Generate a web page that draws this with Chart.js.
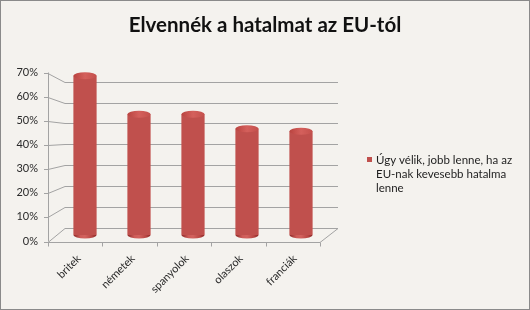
<!DOCTYPE html>
<html>
<head>
<meta charset="utf-8">
<script src="https://cdn.jsdelivr.net/npm/chart.js@4/dist/chart.umd.min.js"></script>
<style>
    html, body { margin: 0; padding: 0; background: #f4f2ee; }
    #wrap { width: 530px; height: 310px; position: relative; }
</style>
</head>
<body>
<div id="wrap"><canvas id="chart" width="530" height="310"></canvas></div>
<script>
// chart data
const categories = ['britek', 'németek', 'spanyolok', 'olaszok', 'franciák'];
const shares = [66, 50, 50, 44, 43];
const seriesLabel = 'Úgy vélik, jobb lenne, ha az EU-nak kevesebb hatalma lenne';
const yTicks = [0, 10, 20, 30, 40, 50, 60, 70];
const chartTitle = 'Elvennék a hatalmat az EU-tól';

const FONT = 'Lato, "Open Sans", sans-serif';
const GRID = '#a3a3a3';
const RED = '#c0504d';

// fake 3d depth: chart area is the middle plane, front/back drawn around it
const FRONT = { dxL: -10, dxR: -8, dy: 6.5 };
const BACK = { dxL: 7, dxR: 10, dy0: -7, k: 0.866 };

function cylGradient(ctx, x0, x1) {
    const g = ctx.createLinearGradient(x0, 0, x1, 0);
    g.addColorStop(0, '#8e2a28');
    g.addColorStop(0.3, '#cd5c58');
    g.addColorStop(0.5, '#d2625e');
    g.addColorStop(0.8, '#b84643');
    g.addColorStop(1, '#8a2826');
    return g;
}

// background, border, title, 3d walls, legend
const framePlugin = {
    id: 'frame',
    beforeDraw(chart) {
        const ctx = chart.ctx;
        ctx.save();
        ctx.fillStyle = '#f4f2ee';
        ctx.fillRect(0, 0, chart.width, chart.height);
        ctx.strokeStyle = '#8a8a8a';
        ctx.lineWidth = 1;
        ctx.strokeRect(0.5, 0.5, chart.width - 1, chart.height - 1);
        ctx.font = 'bold 20.5px ' + FONT;
        ctx.fillStyle = '#111';
        ctx.textAlign = 'center';
        ctx.textBaseline = 'middle';
        ctx.fillText(chartTitle, 265, 25);
        ctx.restore();
    },
    beforeDatasetsDraw(chart) {
        const ctx = chart.ctx;
        const a = chart.chartArea;
        const y = chart.scales.y;
        const y0 = y.getPixelForValue(0);
        const fL = a.left + FRONT.dxL, fR = a.right + FRONT.dxR;
        const bL = a.left + BACK.dxL, bR = a.right + BACK.dxR;
        const front = v => y.getPixelForValue(v) + FRONT.dy;
        const back = v => (y0 + BACK.dy0) - (y0 - y.getPixelForValue(v)) * BACK.k;
        ctx.save();
        ctx.strokeStyle = GRID;
        ctx.lineWidth = 1;
        ctx.beginPath();
        yTicks.forEach(v => {
            const yf = Math.round(front(v)) + 0.5;
            const yb = Math.round(back(v)) + 0.5;
            ctx.moveTo(fL - 4, yf);
            ctx.lineTo(fL, yf);
            ctx.lineTo(bL, yb);
            ctx.lineTo(bR, yb);
        });
        // axis line
        ctx.moveTo(Math.round(fL) + 0.5, front(yTicks[yTicks.length - 1]));
        ctx.lineTo(Math.round(fL) + 0.5, front(0));
        // floor
        const yf0 = Math.round(front(0)) + 0.5;
        ctx.moveTo(fL, yf0);
        ctx.lineTo(fR, yf0);
        ctx.lineTo(bR, Math.round(back(0)) + 0.5);
        const step = (fR - fL) / categories.length;
        for (let i = 0; i <= categories.length; i++) {
            const x = Math.round(fL + i * step) + 0.5;
            ctx.moveTo(x, yf0);
            ctx.lineTo(x, yf0 + 4);
        }
        ctx.stroke();
        ctx.restore();
    },
    afterDatasetsDraw(chart) {
        const ctx = chart.ctx;
        const meta = chart.getDatasetMeta(0);
        ctx.save();
        meta.data.forEach(bar => {
            const half = bar.width / 2;
            const x0 = bar.x - half, x1 = bar.x + half;
            const ry = 3.5;
            // rounded bottom
            ctx.beginPath();
            ctx.ellipse(bar.x, bar.base, half, ry, 0, 0, Math.PI);
            ctx.fillStyle = cylGradient(ctx, x0, x1);
            ctx.fill();
            // top cap
            ctx.beginPath();
            ctx.ellipse(bar.x, bar.y, half, ry, 0, 0, Math.PI * 2);
            const g = ctx.createLinearGradient(x0, 0, x1, 0);
            g.addColorStop(0, '#b9433f');
            g.addColorStop(0.5, '#d4605c');
            g.addColorStop(1, '#c4504c');
            ctx.fillStyle = g;
            ctx.fill();
        });
        ctx.restore();
    },
    afterDraw(chart) {
        // legend with wrapped text
        const ctx = chart.ctx;
        ctx.save();
        ctx.fillStyle = RED;
        ctx.fillRect(367, 157, 5, 5);
        ctx.font = '11.5px ' + FONT;
        ctx.fillStyle = '#1e1e1e';
        ctx.textBaseline = 'alphabetic';
        const words = seriesLabel.split(' ');
        const lines = [];
        let line = '';
        words.forEach(w => {
            const test = line ? line + ' ' + w : w;
            if (ctx.measureText(test).width > 142 && line) {
                lines.push(line);
                line = w;
            } else {
                line = test;
            }
        });
        lines.push(line);
        lines.forEach((l, i) => ctx.fillText(l, 376, 163.5 + i * 14.3));
        ctx.restore();
    }
};

const ctx = document.getElementById('chart').getContext('2d');
const chart = new Chart(ctx, {
    type: 'bar',
    data: {
        labels: categories,
        datasets: [{
            label: seriesLabel,
            data: shares,
            backgroundColor: c => {
                const bar = c.element;
                if (!bar || !bar.width) return RED;
                return cylGradient(c.chart.ctx, bar.x - bar.width / 2, bar.x + bar.width / 2);
            },
            borderWidth: 0,
            barPercentage: 0.43,
            categoryPercentage: 1
        }]
    },
    options: {
        responsive: false,
        animation: false,
        layout: { padding: { left: 0, right: 202, top: 66, bottom: 0 } },
        plugins: {
            legend: { display: false },
            tooltip: { enabled: false },
            title: { display: false }
        },
        scales: {
            x: {
                grid: { display: false, drawTicks: false },
                border: { display: false },
                ticks: {
                    color: '#2a2a2a',
                    font: { family: FONT, size: 11 },
                    minRotation: 45,
                    maxRotation: 45,
                    labelOffset: -6,
                    padding: 17
                },
                afterFit: s => { s.height = 75; }
            },
            y: {
                min: 0,
                max: 70,
                grid: { display: false, drawTicks: false },
                border: { display: false },
                ticks: {
                    stepSize: 10,
                    color: '#2a2a2a',
                    font: { family: FONT, size: 11 },
                    padding: 20,
                    labelOffset: 6,
                    callback: v => v + '%'
                },
                afterFit: s => { s.width = 58; }
            }
        }
    },
    plugins: [framePlugin]
});
</script>
</body>
</html>
